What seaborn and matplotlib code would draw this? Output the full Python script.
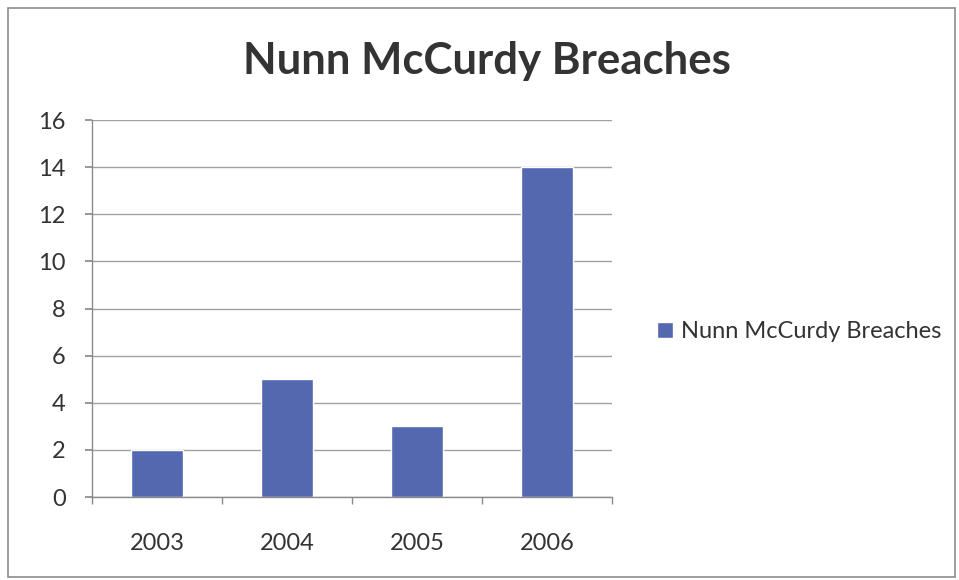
import matplotlib
matplotlib.use("Agg")
import matplotlib.pyplot as plt
from matplotlib.patches import Rectangle
import seaborn as sns
import pandas as pd

years = ["2003", "2004", "2005", "2006"]
breaches = [2, 5, 3, 14]
series_name = "Nunn McCurdy Breaches"
y_ticks = [0, 2, 4, 6, 8, 10, 12, 14, 16]

bar_color = "#5468B0"
text_color = "#333333"
grid_color = "#a0a0a8"

sns.set_theme(style="white")
plt.rcParams["font.family"] = ["Lato", "DejaVu Sans"]

df = pd.DataFrame({"Year": years, "Breaches": breaches})

fig = plt.figure(figsize=(9.59, 5.80), dpi=100)
ax = fig.add_axes([0.0959, 0.143, 0.5423, 0.650])

sns.barplot(data=df, x="Year", y="Breaches", color=bar_color, width=0.4,
            saturation=1, ax=ax, label=series_name)

ax.set_ylim(0, 16)
ax.set_xlim(-0.5, len(years) - 0.5)
ax.set_yticks(y_ticks)
ax.set_yticklabels([str(v) for v in y_ticks], fontsize=17, color=text_color)
ax.set_xticks(range(len(years)))
ax.set_xticklabels(years, fontsize=17, color=text_color)
ax.set_xlabel("")
ax.set_ylabel("")
ax.yaxis.grid(True, color=grid_color, linewidth=1.0)
ax.set_axisbelow(True)

for side in ["top", "right"]:
    ax.spines[side].set_visible(False)
for side in ["left", "bottom"]:
    ax.spines[side].set_color("#8a8a8a")
    ax.spines[side].set_linewidth(1.0)

# y ticks point outward; x ticks sit at category boundaries
ax.tick_params(axis="y", which="major", length=5, color="#8a8a8a", direction="out", pad=14, left=True)
ax.tick_params(axis="x", which="major", length=0, pad=26)
ax.set_xticks([i - 0.5 for i in range(len(years) + 1)], minor=True)
ax.tick_params(axis="x", which="minor", length=5, color="#8a8a8a", direction="out", bottom=True)

fig.text(0.508, 0.895, series_name, ha="center", va="center",
         fontsize=31.5, fontweight="bold", color=text_color)

leg = ax.legend(loc="center left", bbox_to_anchor=(1.045, 0.438), frameon=False,
                fontsize=17, handlelength=0.7, handleheight=0.7,
                handletextpad=0.35, labelcolor=text_color)

fig.add_artist(Rectangle((0.008, 0.006), 0.988, 0.981, transform=fig.transFigure,
                         fill=False, edgecolor="#8c8c8c", linewidth=1.2))

fig.savefig("out.png", dpi=100, facecolor="white")
